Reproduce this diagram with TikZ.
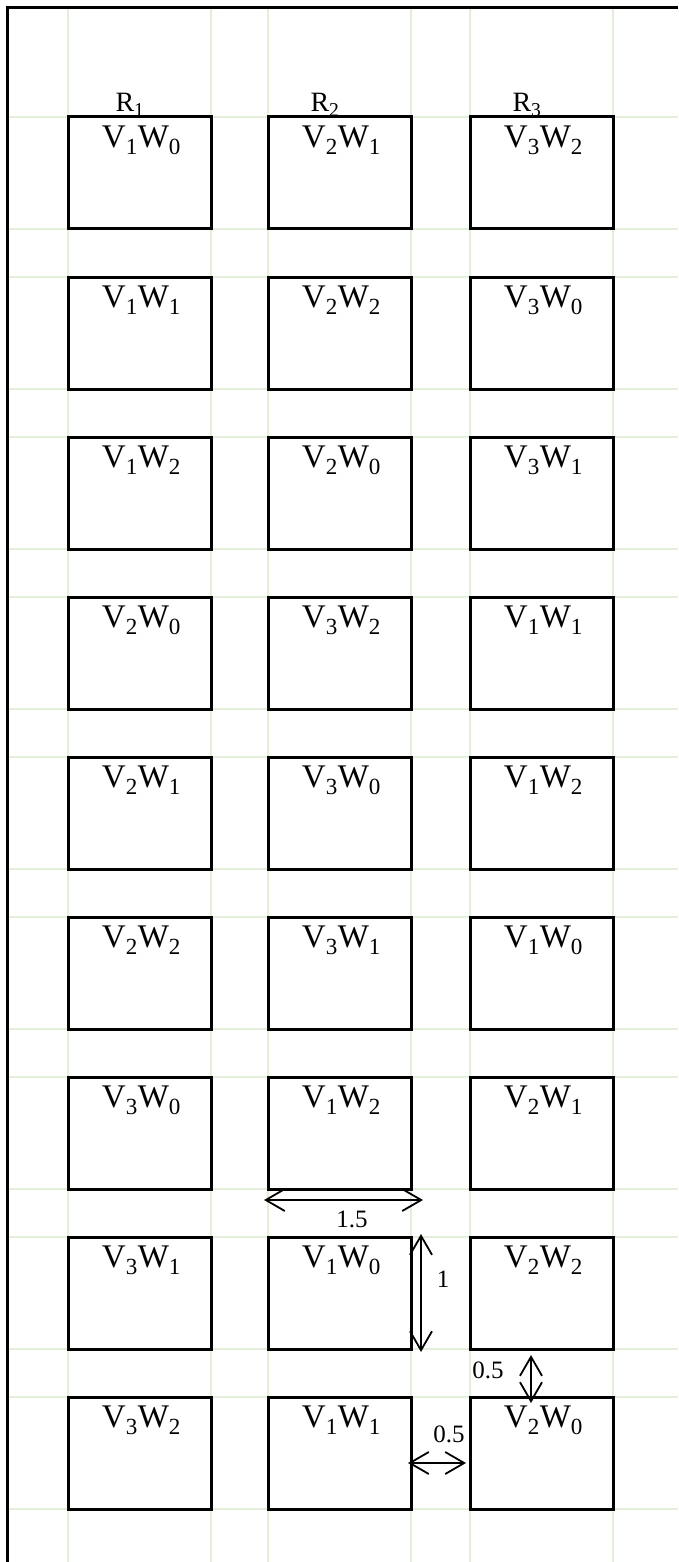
\documentclass[tikz,border=0pt]{standalone}
\usepackage{fontspec}
\setmainfont{Liberation Serif}
\usetikzlibrary{arrows.meta}

\definecolor{gridgreen}{RGB}{226,239,218}
\newcommand{\vw}[2]{V\textsubscript{#1}W\textsubscript{#2}}

\begin{document}
\begin{tikzpicture}[x=1pt, y=-1pt,
    cell/.style={draw, line width=3pt, minimum width=143pt, minimum height=112pt, inner sep=0pt},
    lbl/.style={font=\fontsize{33}{40}\selectfont, anchor=base, inner sep=0pt, xshift=2pt, yshift=-32pt},
    rlbl/.style={font=\fontsize{28}{33}\selectfont, anchor=base, inner sep=0pt},
    dimlbl/.style={font=\fontsize{25}{30}\selectfont, anchor=base, inner sep=0pt},
    dim/.style={line width=1.8pt, {Straight Barb[length=19pt,width=22pt]}-{Straight Barb[length=19pt,width=22pt]}}]
    \useasboundingbox (0,0) rectangle (678,1562);

    % Светло-зелёная сетка
    \draw[gridgreen, line width=2.5pt] (68,8) -- (68,1562) (211,8) -- (211,1562)
        (268,8) -- (268,1562) (411,8) -- (411,1562) (470,8) -- (470,1562) (613,8) -- (613,1562);
    \foreach \t in {117,277,...,1397} {
        \draw[gridgreen, line width=2.5pt] (8,\t) -- (678,\t) (8,\t+112) -- (678,\t+112);
    }

    % Рамка слева и сверху
    \draw[line width=3pt] (7,1562) -- (7,8) -- (678,8);

    % Заголовки столбцов
    \node[rlbl] (r1) at (130,112) {R\textsubscript{1}};
    \node[rlbl] (r2) at (325,112) {R\textsubscript{2}};
    \node[rlbl] (r3) at (527,112) {R\textsubscript{3}};

    % 1-я строка
    \node[cell] (c11) at (139.5,173) {}; \node[lbl] (t11) at (c11.north) {\vw{1}{0}};
    \node[cell] (c12) at (339.5,173) {}; \node[lbl] (t12) at (c12.north) {\vw{2}{1}};
    \node[cell] (c13) at (541.5,173) {}; \node[lbl] (t13) at (c13.north) {\vw{3}{2}};
    % 2-я строка
    \node[cell] (c21) at (139.5,333) {}; \node[lbl] (t21) at (c21.north) {\vw{1}{1}};
    \node[cell] (c22) at (339.5,333) {}; \node[lbl] (t22) at (c22.north) {\vw{2}{2}};
    \node[cell] (c23) at (541.5,333) {}; \node[lbl] (t23) at (c23.north) {\vw{3}{0}};
    % 3-я строка
    \node[cell] (c31) at (139.5,493) {}; \node[lbl] (t31) at (c31.north) {\vw{1}{2}};
    \node[cell] (c32) at (339.5,493) {}; \node[lbl] (t32) at (c32.north) {\vw{2}{0}};
    \node[cell] (c33) at (541.5,493) {}; \node[lbl] (t33) at (c33.north) {\vw{3}{1}};
    % 4-я строка
    \node[cell] (c41) at (139.5,653) {}; \node[lbl] (t41) at (c41.north) {\vw{2}{0}};
    \node[cell] (c42) at (339.5,653) {}; \node[lbl] (t42) at (c42.north) {\vw{3}{2}};
    \node[cell] (c43) at (541.5,653) {}; \node[lbl] (t43) at (c43.north) {\vw{1}{1}};
    % 5-я строка
    \node[cell] (c51) at (139.5,813) {}; \node[lbl] (t51) at (c51.north) {\vw{2}{1}};
    \node[cell] (c52) at (339.5,813) {}; \node[lbl] (t52) at (c52.north) {\vw{3}{0}};
    \node[cell] (c53) at (541.5,813) {}; \node[lbl] (t53) at (c53.north) {\vw{1}{2}};
    % 6-я строка
    \node[cell] (c61) at (139.5,973) {}; \node[lbl] (t61) at (c61.north) {\vw{2}{2}};
    \node[cell] (c62) at (339.5,973) {}; \node[lbl] (t62) at (c62.north) {\vw{3}{1}};
    \node[cell] (c63) at (541.5,973) {}; \node[lbl] (t63) at (c63.north) {\vw{1}{0}};
    % 7-я строка
    \node[cell] (c71) at (139.5,1133) {}; \node[lbl] (t71) at (c71.north) {\vw{3}{0}};
    \node[cell] (c72) at (339.5,1133) {}; \node[lbl] (t72) at (c72.north) {\vw{1}{2}};
    \node[cell] (c73) at (541.5,1133) {}; \node[lbl] (t73) at (c73.north) {\vw{2}{1}};
    % 8-я строка
    \node[cell] (c81) at (139.5,1293) {}; \node[lbl] (t81) at (c81.north) {\vw{3}{1}};
    \node[cell] (c82) at (339.5,1293) {}; \node[lbl] (t82) at (c82.north) {\vw{1}{0}};
    \node[cell] (c83) at (541.5,1293) {}; \node[lbl] (t83) at (c83.north) {\vw{2}{2}};
    % 9-я строка
    \node[cell] (c91) at (139.5,1453) {}; \node[lbl] (t91) at (c91.north) {\vw{3}{2}};
    \node[cell] (c92) at (339.5,1453) {}; \node[lbl] (t92) at (c92.north) {\vw{1}{1}};
    \node[cell] (c93) at (541.5,1453) {}; \node[lbl] (t93) at (c93.north) {\vw{2}{0}};

    % Размеры
    % ширина клетки
    \coordinate (w1) at (264,1200); \coordinate (w2) at (423,1200);
    \draw[dim] (w1) -- (w2);
    \node[dimlbl] (d15) at (352,1227) {1.5};
    % высота клетки
    \coordinate (h1) at (421,1234); \coordinate (h2) at (421,1352);
    \draw[dim] (h1) -- (h2);
    \node[dimlbl] (d1) at (443,1287) {1};
    % промежуток по вертикали
    \coordinate (v1) at (531,1355); \coordinate (v2) at (531,1403);
    \draw[dim] (v1) -- (v2);
    \node[dimlbl] (d05a) at (488,1378) {0.5};
    % промежуток по горизонтали
    \coordinate (g1) at (408,1463); \coordinate (g2) at (466,1463);
    \draw[dim] (g1) -- (g2);
    \node[dimlbl] (d05b) at (449,1442) {0.5};

\end{tikzpicture}
\end{document}
